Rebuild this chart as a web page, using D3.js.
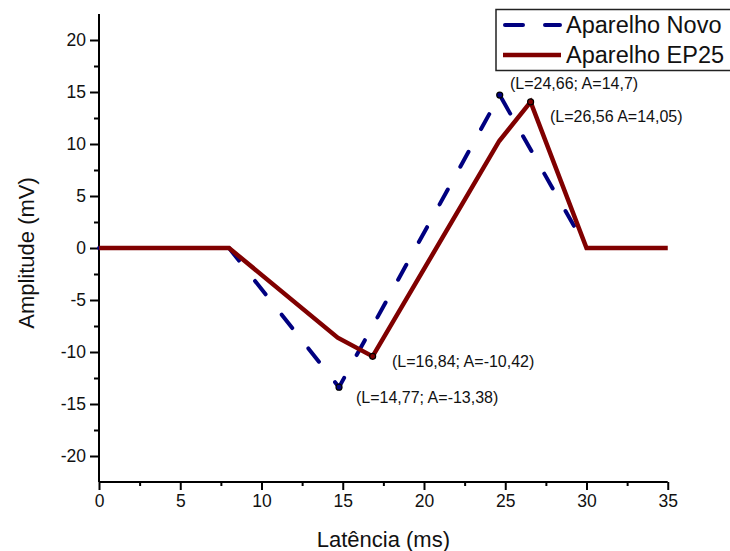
<!DOCTYPE html>
<html>
<head>
<meta charset="utf-8">
<script src="https://cdn.jsdelivr.net/npm/d3@7"></script>
<style>
  html, body { margin: 0; padding: 0; background: #fff; }
  svg { display: block; font-family: "Liberation Sans", Arial, sans-serif; }
</style>
</head>
<body>
<svg id="chart" width="730" height="551"></svg>
<script>
// ---- data ----
const novoX = [0, 8, 14.77, 24.66, 30, 35];
const novoY = [0, 0, -13.38, 14.7, 0, 0];
const ep25X = [0, 8, 14.69, 16.84, 24.63, 26.56, 30, 35];
const ep25Y = [0, 0, -8.62, -10.42, 10.29, 14.05, 0, 0];
const seriesNames = ["Aparelho Novo", "Aparelho EP25"];
const xTicks = [0, 5, 10, 15, 20, 25, 30, 35];
const yTicks = [-20, -15, -10, -5, 0, 5, 10, 15, 20];
const xMinor = [2.5, 7.5, 12.5, 17.5, 22.5, 27.5, 32.5];
const yMinor = [-17.5, -12.5, -7.5, -2.5, 2.5, 7.5, 12.5, 17.5];
const annotX = [24.66, 26.56, 16.84, 14.77];
const annotY = [14.7, 14.05, -10.42, -13.38];
const annotSeries = [0, 1, 1, 0];
const annotText = ["(L=24,66; A=14,7)", "(L=26,56 A=14,05)", "(L=16,84; A=-10,42)", "(L=14,77; A=-13,38)"];

// ---- layout ----
const svg = d3.select("#chart");
const mLeft = 99, mTop = 14, plotW = 568.75, plotH = 468;
const x = d3.scaleLinear().domain([0, 35]).range([mLeft, mLeft + plotW]);
const y = d3.scaleLinear().domain([-22.5, 22.5]).range([mTop + plotH, mTop]);
const colors = ["#000080", "#800000"];
const fmt = d => String(d);

// ---- axes ----
const xAxis = svg.append("g").attr("transform", `translate(0,${mTop + plotH})`)
  .call(d3.axisBottom(x).tickValues(xTicks).tickSize(8).tickPadding(5).tickFormat(fmt));
const xAxisMinor = svg.append("g").attr("transform", `translate(0,${mTop + plotH})`)
  .call(d3.axisBottom(x).tickValues(xMinor).tickSize(4).tickFormat(""));
const yAxis = svg.append("g").attr("transform", `translate(${mLeft},0)`)
  .call(d3.axisLeft(y).tickValues(yTicks).tickSize(9).tickPadding(4).tickFormat(fmt));
const yAxisMinor = svg.append("g").attr("transform", `translate(${mLeft},0)`)
  .call(d3.axisLeft(y).tickValues(yMinor).tickSize(5).tickFormat(""));

[xAxis, xAxisMinor, yAxis, yAxisMinor].forEach(g => {
  g.select(".domain").attr("stroke", "#000").attr("stroke-width", 2);
  g.selectAll(".tick line").attr("stroke", "#000").attr("stroke-width", 2);
  g.selectAll(".tick text").attr("fill", "#111").style("font-size", "17.5px")
    .style("font-family", "'Liberation Sans', Arial, sans-serif");
});
xAxis.select(".domain").attr("d", `M${mLeft},0H${mLeft + plotW}`);
xAxisMinor.select(".domain").remove();
yAxis.select(".domain").attr("d", `M0,${mTop + plotH}V${mTop}`);
yAxisMinor.select(".domain").remove();

// ---- axis titles ----
svg.append("text").attr("x", x(17.5)).attr("y", 547).attr("text-anchor", "middle")
  .style("font-size", "22px").attr("fill", "#111").text("Latência (ms)");
svg.append("text").attr("transform", `translate(34,${y(0) + 5}) rotate(-90)`).attr("text-anchor", "middle")
  .style("font-size", "22px").attr("fill", "#111").text("Amplitude (mV)");

// ---- lines ----
const line = d3.line().x(d => x(d[0])).y(d => y(d[1]));
const novoData = novoX.map((v, i) => [v, novoY[i]]);
const ep25Data = ep25X.map((v, i) => [v, ep25Y[i]]);

svg.append("path").datum(novoData).attr("d", line).attr("fill", "none")
  .attr("stroke", colors[0]).attr("stroke-width", 4).attr("stroke-linecap", "round")
  .attr("stroke-dasharray", "17,26");
svg.append("path").datum(ep25Data).attr("d", line).attr("fill", "none")
  .attr("stroke", colors[1]).attr("stroke-width", 4.5).attr("stroke-linejoin", "miter");

// ---- annotation points ----
svg.selectAll("circle.pt").data(annotX.map((v, i) => i)).enter().append("circle")
  .attr("class", "pt")
  .attr("cx", i => x(annotX[i])).attr("cy", i => y(annotY[i])).attr("r", 3)
  .attr("fill", i => colors[annotSeries[i]]).attr("stroke", "#000").attr("stroke-width", 1.2);

const annotPos = [[510, 89], [550, 122], [392, 367], [356, 403]];
svg.selectAll("text.annot").data(annotText).enter().append("text")
  .attr("class", "annot")
  .attr("x", (d, i) => annotPos[i][0]).attr("y", (d, i) => annotPos[i][1])
  .style("font-size", "16px").attr("fill", "#111").text(d => d);

// ---- legend ----
const lg = svg.append("g");
lg.append("rect").attr("x", 496).attr("y", 9.5).attr("width", 240).attr("height", 61)
  .attr("fill", "#fff").attr("stroke", "#222").attr("stroke-width", 1.5);
const legendY = [25, 55];
lg.append("line").attr("x1", 505).attr("x2", 560).attr("y1", legendY[0]).attr("y2", legendY[0])
  .attr("stroke", colors[0]).attr("stroke-width", 4).attr("stroke-linecap", "round")
  .attr("stroke-dasharray", "18,22");
lg.append("line").attr("x1", 503).attr("x2", 561).attr("y1", legendY[1]).attr("y2", legendY[1])
  .attr("stroke", colors[1]).attr("stroke-width", 4.5);
seriesNames.forEach((n, i) => {
  lg.append("text").attr("x", 566).attr("y", legendY[i] + 8).style("font-size", "23.5px")
    .attr("fill", "#111").text(n);
});
</script>
</body>
</html>
